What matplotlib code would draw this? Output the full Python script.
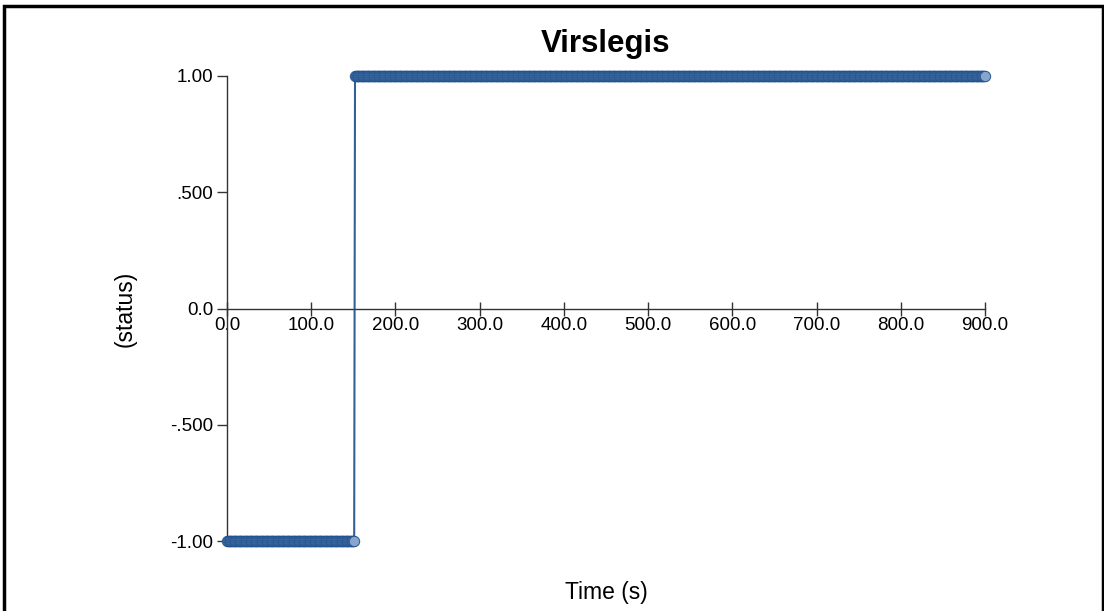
import numpy as np
import matplotlib.pyplot as plt
from matplotlib.patches import Rectangle

# status signal, sampled every second
sample_step = 1.0
t_end = 900.0
switch_time = 152.0
status_low = -1.0
status_high = 1.0

xticks = [0, 100, 200, 300, 400, 500, 600, 700, 800, 900]
xticklabels = ['0.0', '100.0', '200.0', '300.0', '400.0', '500.0', '600.0', '700.0', '800.0', '900.0']
yticks = [-1.0, -0.5, 0.0, 0.5, 1.0]
yticklabels = ['-1.00', '-.500', '0.0', '.500', '1.00']

time = np.arange(0, t_end + sample_step / 2, sample_step)
status = np.where(time < switch_time, status_low, status_high)

plt.rcParams['font.family'] = ['Liberation Sans', 'DejaVu Sans']

fig = plt.figure(figsize=(11.04, 6.11), dpi=100)
ax = fig.add_axes([227 / 1104, 1 - 541 / 611, (985 - 227) / 1104, (541 - 76) / 611])

col = '#1d4f8c'
ax.plot(time, status, color=col, lw=1.5, marker='o', ms=7.5, mfc='#8aa6cc', mec=col,
        mew=0.7, alpha=0.9, clip_on=False, zorder=3)

ax.set_xlim(0, t_end)
ax.set_ylim(-1, 1)

ax.spines['top'].set_visible(False)
ax.spines['right'].set_visible(False)
ax.spines['bottom'].set_position(('data', 0))
for s in ('left', 'bottom'):
    ax.spines[s].set_color('#333333')
    ax.spines[s].set_linewidth(1)

ax.set_xticks(xticks)
ax.set_xticklabels(xticklabels)
ax.set_yticks(yticks)
ax.set_yticklabels(yticklabels)
ax.tick_params(axis='x', direction='inout', length=10, width=1, color='#333333',
               labelsize=13.5, pad=1)
ax.tick_params(axis='y', direction='out', length=7, width=1, color='#333333',
               labelsize=13.5, pad=3)

fig.text(606 / 1104, 1 - 44 / 611, 'Virslegis', ha='center', va='center',
         fontsize=22.5, fontweight='bold')
fig.text(606 / 1104, 1 - 592 / 611, 'Time (s)', ha='center', va='center', fontsize=16.5)
fig.text(125 / 1104, 1 - 309 / 611, '(status)', ha='center', va='center', fontsize=16.5,
         rotation=90)

# frame around the chart
fig.patches.append(Rectangle((4 / 1104, -0.1), (1103 - 4) / 1104, 1.1 - 6 / 611,
                             transform=fig.transFigure, fill=False, lw=2.5,
                             edgecolor='black'))

fig.savefig('out.png', dpi=100)
